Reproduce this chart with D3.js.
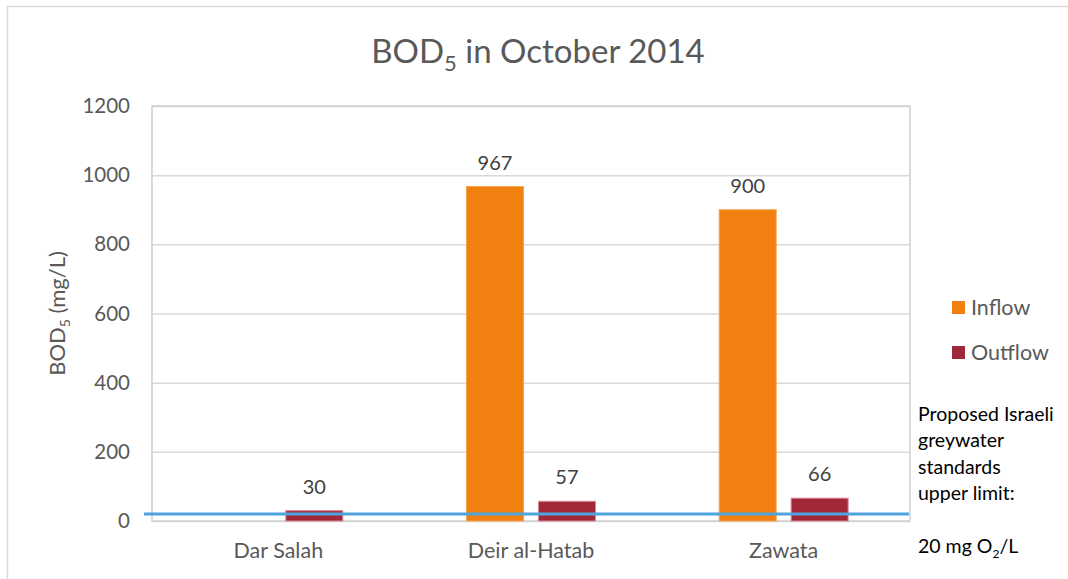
<html>
  <meta charset="utf-8">
  <head>
  <style>
    body { margin: 0; background: #fff; }
    svg text { font-family: Lato, "Open Sans", sans-serif; }
  </style>
  </head>
  <body>
    <div id="chart"></div>
    <script src="https://d3js.org/d3.v7.min.js"></script>
    <script>
    'use strict';

    var categories = ['Dar Salah', 'Deir al-Hatab', 'Zawata'];
    var seriesNames = ['Inflow', 'Outflow'];
    var inflow = [null, 967, 900];
    var outflow = [30, 57, 66];
    var yTicks = [0, 200, 400, 600, 800, 1000, 1200];
    var limitValue = 20;
    var noteLines = ['Proposed Israeli', 'greywater', 'standards', 'upper limit:', ''];

    var colors = { Inflow: '#f0800f', Outflow: '#a02838' };

    var W = 1068, H = 579;
    var plot = { left: 152, right: 910, top: 106, bottom: 521 };

    var svg = d3.select('#chart').append('svg')
        .attr('width', W)
        .attr('height', H);

    // chart frame
    svg.append('rect')
      .attr('x', 7.5).attr('y', 6.5)
      .attr('width', W).attr('height', H)
      .attr('fill', '#fff')
      .attr('stroke', '#d9d9d9')
      .attr('stroke-width', 1.5);

    var x = d3.scaleBand()
        .domain(categories)
        .range([plot.left, plot.right]);

    var x1 = d3.scaleBand()
        .domain(seriesNames)
        .range([0, x.bandwidth()])
        .paddingInner(0.208)
        .paddingOuter(0.86);

    var y = d3.scaleLinear()
        .domain([0, 1200])
        .range([plot.bottom, plot.top]);

    // gridlines
    svg.append('g')
      .attr('transform', 'translate(' + plot.left + ',0)')
      .call(d3.axisLeft(y).tickValues(yTicks).tickSize(-(plot.right - plot.left)).tickFormat(''))
      .call(g => g.select('.domain').remove())
      .call(g => g.selectAll('line').attr('stroke', '#d9d9d9').attr('stroke-width', 1.5));

    // plot border
    svg.append('rect')
      .attr('x', plot.left).attr('y', plot.top)
      .attr('width', plot.right - plot.left)
      .attr('height', plot.bottom - plot.top)
      .attr('fill', 'none')
      .attr('stroke', '#cfcfcf')
      .attr('stroke-width', 1.5);

    // y tick labels
    svg.append('g')
      .attr('transform', 'translate(' + (plot.left - 22) + ',0)')
      .call(d3.axisLeft(y).tickValues(yTicks).tickSize(0).tickPadding(0).tickFormat(d3.format('d')))
      .call(g => g.select('.domain').remove())
      .call(g => g.selectAll('text')
        .attr('fill', '#595959')
        .style('font-size', '20.5px'));

    // x labels
    svg.append('g')
      .attr('transform', 'translate(0,' + plot.bottom + ')')
      .call(d3.axisBottom(x).tickSize(0).tickPadding(22))
      .call(g => g.select('.domain').remove())
      .call(g => g.selectAll('text')
        .attr('fill', '#595959')
        .style('font-size', '21.5px'));

    var rows = categories.map((c, i) => ({ cat: c, values: [
      { key: 'Inflow', value: inflow[i] },
      { key: 'Outflow', value: outflow[i] }
    ].filter(d => d.value != null) }));

    var groups = svg.append('g').selectAll('g')
      .data(rows)
      .join('g')
      .attr('transform', d => 'translate(' + x(d.cat) + ',0)');

    groups.selectAll('rect')
      .data(d => d.values)
      .join('rect')
      .attr('x', d => x1(d.key))
      .attr('width', x1.bandwidth())
      .attr('y', d => y(d.value))
      .attr('height', d => y(0) - y(d.value))
      .attr('fill', d => colors[d.key])
      .attr('stroke', d => d.key === 'Outflow' ? '#d98a96' : '#f6a24a')
      .attr('stroke-width', 1);

    groups.selectAll('text.val')
      .data(d => d.values)
      .join('text')
      .attr('class', 'val')
      .attr('x', d => x1(d.key) + x1.bandwidth() / 2)
      .attr('y', d => y(d.value) - 17)
      .attr('text-anchor', 'middle')
      .attr('fill', '#404040')
      .style('font-size', '20px')
      .text(d => d.value);

    // limit line
    svg.append('line')
      .attr('x1', plot.left - 8).attr('x2', plot.right - 1)
      .attr('y1', y(limitValue)).attr('y2', y(limitValue))
      .attr('stroke', '#4ea4dc')
      .attr('stroke-width', 3);

    // title
    var title = svg.append('text')
      .attr('x', 538).attr('y', 63)
      .attr('text-anchor', 'middle')
      .attr('fill', '#595959')
      .style('font-size', '33px');
    title.append('tspan').text('BOD');
    title.append('tspan').attr('dy', 8).style('font-size', '22px').text('5');
    title.append('tspan').attr('dy', -8).text(' in October 2014');

    // y axis title
    var yt = svg.append('text')
      .attr('transform', 'translate(65,' + ((plot.top + plot.bottom) / 2) + ') rotate(-90)')
      .attr('text-anchor', 'middle')
      .attr('fill', '#595959')
      .style('font-size', '22px');
    yt.append('tspan').text('BOD');
    yt.append('tspan').attr('dy', 5).style('font-size', '14px').text('5');
    yt.append('tspan').attr('dy', -5).text(' (mg/L)');

    // legend
    var legend = svg.append('g')
      .selectAll('g')
      .data(seriesNames)
      .join('g')
      .attr('transform', (d, i) => 'translate(952,' + (301 + i * 45) + ')');
    legend.append('rect')
      .attr('width', 13).attr('height', 13)
      .attr('fill', d => colors[d]);
    legend.append('text')
      .attr('x', 19).attr('y', 13.5)
      .attr('fill', '#595959')
      .style('font-size', '21.5px')
      .text(d => d);

    // annotation
    var note = svg.append('g').attr('transform', 'translate(918,0)');
    note.selectAll('text.line')
      .data(noteLines)
      .join('text')
      .attr('class', 'line')
      .attr('y', (d, i) => 421 + i * 26.4)
      .attr('fill', '#000')
      .style('font-size', '19.5px')
      .text(d => d);
    var last = note.append('text')
      .attr('y', 553)
      .attr('fill', '#000')
      .style('font-size', '19.5px');
    last.append('tspan').text('20 mg O');
    last.append('tspan').attr('dy', 5).style('font-size', '12px').text('2');
    last.append('tspan').attr('dy', -5).text('/L');
    </script>
  </body>
</html>
